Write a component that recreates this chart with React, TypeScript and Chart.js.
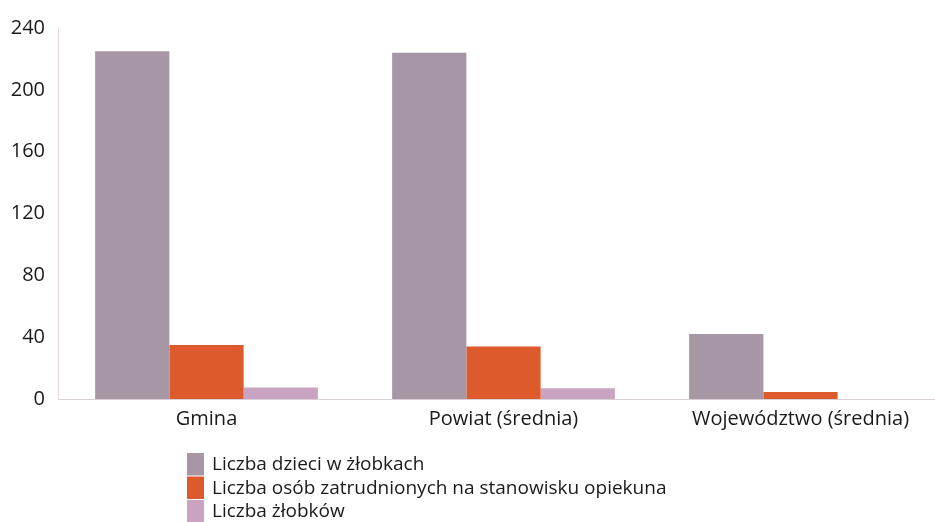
import React, { useEffect, useRef } from "react";
import { Chart, registerables } from "chart.js";

Chart.register(...registerables);

const categories = ["Gmina", "Powiat (średnia)", "Województwo (średnia)"];
const seriesLabels = [
  "Liczba dzieci w żłobkach",
  "Liczba osób zatrudnionych na stanowisku opiekuna",
  "Liczba żłobków",
];
const dzieci = [225, 224, 42];
const opiekunowie = [35, 34, 4.5];
const zlobki = [7.5, 7, 0];
const yTicks = [0, 40, 80, 120, 160, 200, 240];

const colors = ["#a797a4", "#dd5a2c", "#c9a3c2"];

const FONT = "'Open Sans', 'Noto Sans', sans-serif";

const legendPlugin = {
  id: "customLegend",
  afterDraw(chart: any) {
    const ctx = chart.ctx;
    ctx.save();
    const x0 = 187;
    const y0 = 453;
    const rowH = 23.5;
    ctx.font = `19px ${FONT}`;
    ctx.textBaseline = "middle";
    chart.data.datasets.forEach((ds: any, i: number) => {
      const y = y0 + i * rowH;
      ctx.fillStyle = ds.backgroundColor;
      ctx.fillRect(x0, y, 17, rowH - 1);
      ctx.fillStyle = "#1a1a1a";
      ctx.fillText(ds.label, x0 + 25, y + rowH / 2);
    });
    ctx.restore();
  },
};

export default function App() {
  const ref = useRef<HTMLCanvasElement | null>(null);
  useEffect(() => {
    if (!ref.current) return;
    const chart = new Chart(ref.current, {
      type: "bar",
      data: {
        labels: categories,
        datasets: [
          { label: seriesLabels[0], data: dzieci, backgroundColor: colors[0] },
          { label: seriesLabels[1], data: opiekunowie, backgroundColor: colors[1] },
          { label: seriesLabels[2], data: zlobki, backgroundColor: colors[2] },
        ],
      },
      options: {
        animation: false,
        responsive: false,
        layout: { padding: { top: 28, left: 0, right: 0, bottom: 83 } },
        plugins: {
          legend: { display: false },
          tooltip: { enabled: false },
        },
        datasets: {
          bar: { categoryPercentage: 0.75, barPercentage: 1.0 },
        },
        scales: {
          x: {
            grid: { display: false, drawTicks: false },
            border: { color: "#d8d0d4", width: 1 },
            ticks: {
              color: "#1a1a1a",
              font: { family: FONT, size: 20 },
              padding: 8,
            },
          },
          y: {
            min: 0,
            max: 240,
            afterBuildTicks: (axis: any) => {
              axis.ticks = yTicks.map((v) => ({ value: v }));
            },
            afterFit: (axis: any) => {
              axis.width = 58;
            },
            grid: { display: false, drawTicks: false },
            border: { color: "#f3d3de", width: 1 },
            ticks: {
              color: "#1a1a1a",
              font: { family: FONT, size: 20 },
              padding: 13,
            },
          },
        },
      },
      plugins: [legendPlugin],
    });
    return () => chart.destroy();
  }, []);
  return (
    <div
      style={{
        position: "absolute",
        left: 0,
        top: 0,
        width: 935,
        height: 522,
        overflow: "hidden",
        background: "#fff",
      }}
    >
      <canvas ref={ref} width={949} height={522} style={{ display: "block" }} />
    </div>
  );
}
